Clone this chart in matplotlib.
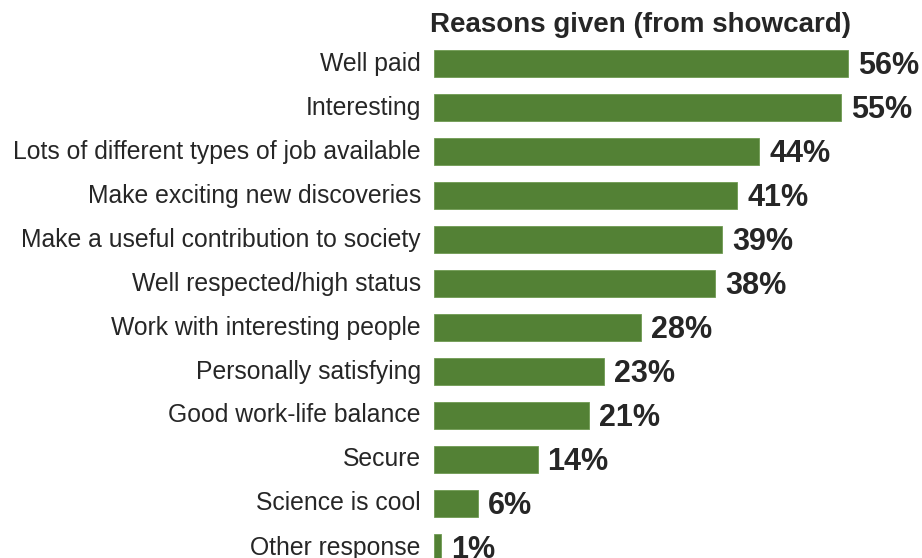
import matplotlib
matplotlib.use("Agg")
import matplotlib.pyplot as plt
from matplotlib.transforms import ScaledTranslation

categories = ["Well paid", "Interesting", "Lots of different types of job available",
              "Make exciting new discoveries", "Make a useful contribution to society",
              "Well respected/high status", "Work with interesting people",
              "Personally satisfying", "Good work-life balance", "Secure",
              "Science is cool", "Other response"]
values = [56, 55, 44, 41, 39, 38, 28, 23, 21, 14, 6, 1]
title = "Reasons given (from showcard)"

plt.rcParams['font.family'] = ['Liberation Sans', 'DejaVu Sans']
W, H = 922, 558
fig = plt.figure(figsize=(W/100, H/100), dpi=100)
pitch = 44.0
top_px = 63.5 - pitch/2
ax = fig.add_axes([434/W, 0, (922-434)/W, (H - top_px)/H])
scale = (848-434)/56.0
ax.set_xlim(0, (922-434)/scale)
ybottom = -0.5 + (H - top_px)/pitch
ax.set_ylim(ybottom, -0.5)

pos = list(range(len(categories)))
ax.barh(pos, values, height=0.62, color="#538135", edgecolor="#6f9a52", linewidth=0.6)
ax.set_yticks(pos)
ax.set_yticklabels(categories, fontsize=17.8, color="#262626")
ax.tick_params(axis='y', length=0, pad=9.5)
shift = ScaledTranslation(0, 2.5/100, fig.dpi_scale_trans)
for lab in ax.get_yticklabels():
    lab.set_transform(lab.get_transform() + shift)
ax.set_xticks([])
for s in ax.spines.values():
    s.set_visible(False)
for p, v in zip(pos, values):
    ax.annotate(f"{v}%", (v, p), xytext=(7.2, -2), textcoords="offset points",
                ha="left", va="center", fontsize=22, fontweight="bold", color="#262626",
                annotation_clip=False)
fig.text(641/W, 1 - 25/H, title, ha="center", va="center", fontsize=20,
         fontweight="bold", color="#262626")
fig.savefig("out.png", dpi=100)
